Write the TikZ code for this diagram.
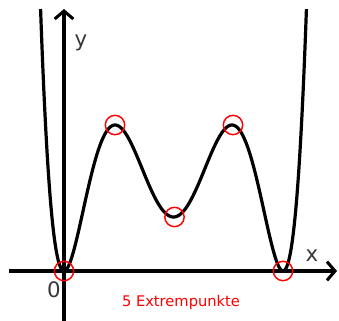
\documentclass[tikz,border=0pt]{standalone}
\usepackage{fontspec}
\setmainfont{DejaVu Sans}
\usetikzlibrary{arrows.meta}
\tikzset{
  axis/.style={line width=2.3pt, -{Straight Barb[length=6pt,width=14pt,line width=2.3pt]}},
  curve/.style={line width=2.4pt, line join=round},
  extr/.style={circle, draw=red, line width=1.1pt, minimum size=14.5pt, inner sep=0pt},
  lbl/.style={text=black!78, font=\fontsize{16}{16}\selectfont, anchor=base, inner sep=0pt},
  note/.style={text=red, font=\fontsize{11}{12}\selectfont, anchor=base, inner sep=0pt}
}
\begin{document}
\begin{tikzpicture}[x=0.75pt,y=0.75pt]
\useasboundingbox (0,0) rectangle (339,321);
% axes
\coordinate (xs) at (9,50);
\coordinate (xe) at (337,50);
\coordinate (ys) at (64,0);
\coordinate (ye) at (64,312);
\draw[axis] (xs) -- (xe);
\draw[axis] (ys) -- (ye);
% curve
\draw[curve] plot[domain=-1.214:1.214, samples=241, smooth]
  ({173.5+109.5*\x}, {50+(1-\x*\x)^2*(54+826.3*\x*\x-48.2*\x*\x*\x*\x)});
% extreme points
\node[extr] (e1) at (64,50) {};
\node[extr] (e2) at (115,196) {};
\node[extr] (e3) at (174.5,104) {};
\node[extr] (e4) at (233,196) {};
\node[extr] (e5) at (283,50) {};
% labels
\node[lbl] (ly) at (81,274) {y};
\node[lbl] (lx) at (312,59) {x};
\node[lbl] (l0) at (54,23) {0};
\node[note] (n) at (181,14) {5 Extrempunkte};
\end{tikzpicture}
\end{document}
